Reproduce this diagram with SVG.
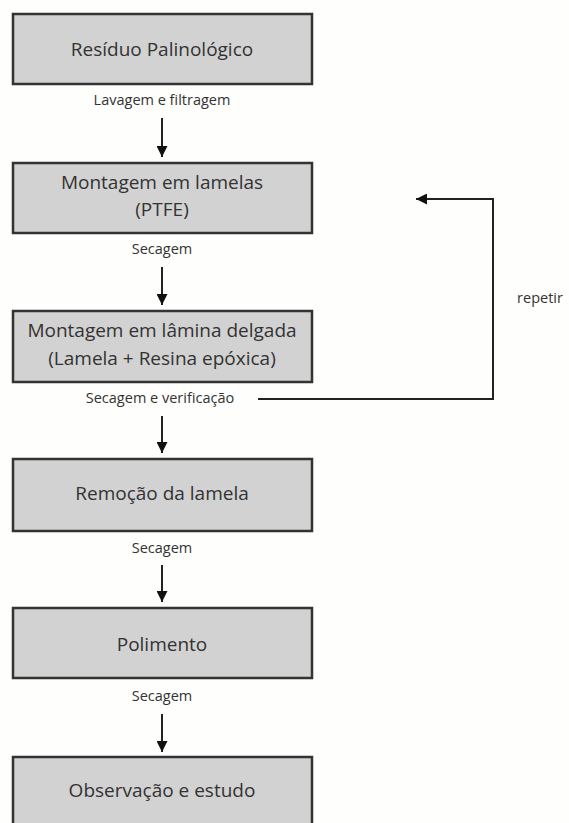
<svg xmlns="http://www.w3.org/2000/svg" width="569" height="823" viewBox="0 0 569 823">
<defs>
<style>
.box{fill:#d2d2d2;stroke:#333;stroke-width:2.5}
.t{font-family:"Open Sans","Noto Sans",sans-serif;font-size:19px;fill:#333;text-anchor:middle}
.s{font-family:"Open Sans","Noto Sans",sans-serif;font-size:14.5px;fill:#333;text-anchor:middle}
.c{fill:none;stroke:#222;stroke-width:2}
</style>
<marker id="ah" viewBox="0 0 10 10" refX="10" refY="5" markerWidth="5.5" markerHeight="5.5" orient="auto" markerUnits="strokeWidth">
<path d="M0,0 L10,5 L0,10 z" fill="#111"/>
</marker>
</defs>
<rect width="569" height="823" fill="#fefefc"/>
<g id="n1"><rect class="box" x="13" y="14" width="299" height="70"/><text class="t" x="162" y="56">Resíduo Palinológico</text></g>
<g id="n2"><rect class="box" x="13" y="163" width="299" height="70"/><text class="t" x="162" y="189">Montagem em lamelas</text><text class="t" x="162" y="216">(PTFE)</text></g>
<g id="n3"><rect class="box" x="13" y="311" width="299" height="71"/><text class="t" x="162" y="337">Montagem em lâmina delgada</text><text class="t" x="162" y="365">(Lamela + Resina epóxica)</text></g>
<g id="n4"><rect class="box" x="13" y="459" width="299" height="72"/><text class="t" x="162" y="500">Remoção da lamela</text></g>
<g id="n5"><rect class="box" x="13" y="608" width="299" height="70"/><text class="t" x="162" y="651">Polimento</text></g>
<g id="n6"><rect class="box" x="13" y="757" width="299" height="70"/><text class="t" x="162" y="797">Observação e estudo</text></g>
<g id="connectors">
<line class="c" x1="162" y1="118" x2="162" y2="157" marker-end="url(#ah)"/>
<line class="c" x1="162" y1="267" x2="162" y2="305" marker-end="url(#ah)"/>
<line class="c" x1="162" y1="416" x2="162" y2="453" marker-end="url(#ah)"/>
<line class="c" x1="162" y1="565" x2="162" y2="602" marker-end="url(#ah)"/>
<line class="c" x1="162" y1="714" x2="162" y2="752" marker-end="url(#ah)"/>
<polyline class="c" points="258,399 493,399 493,199 416,199" marker-end="url(#ah)"/>
</g>
<g id="labels">
<text class="s" x="162" y="105">Lavagem e filtragem</text>
<text class="s" x="162" y="254">Secagem</text>
<text class="s" x="160" y="403">Secagem e verificação</text>
<text class="s" x="162" y="553">Secagem</text>
<text class="s" x="162" y="701">Secagem</text>
<text class="s" x="540" y="303">repetir</text>
</g>
</svg>
